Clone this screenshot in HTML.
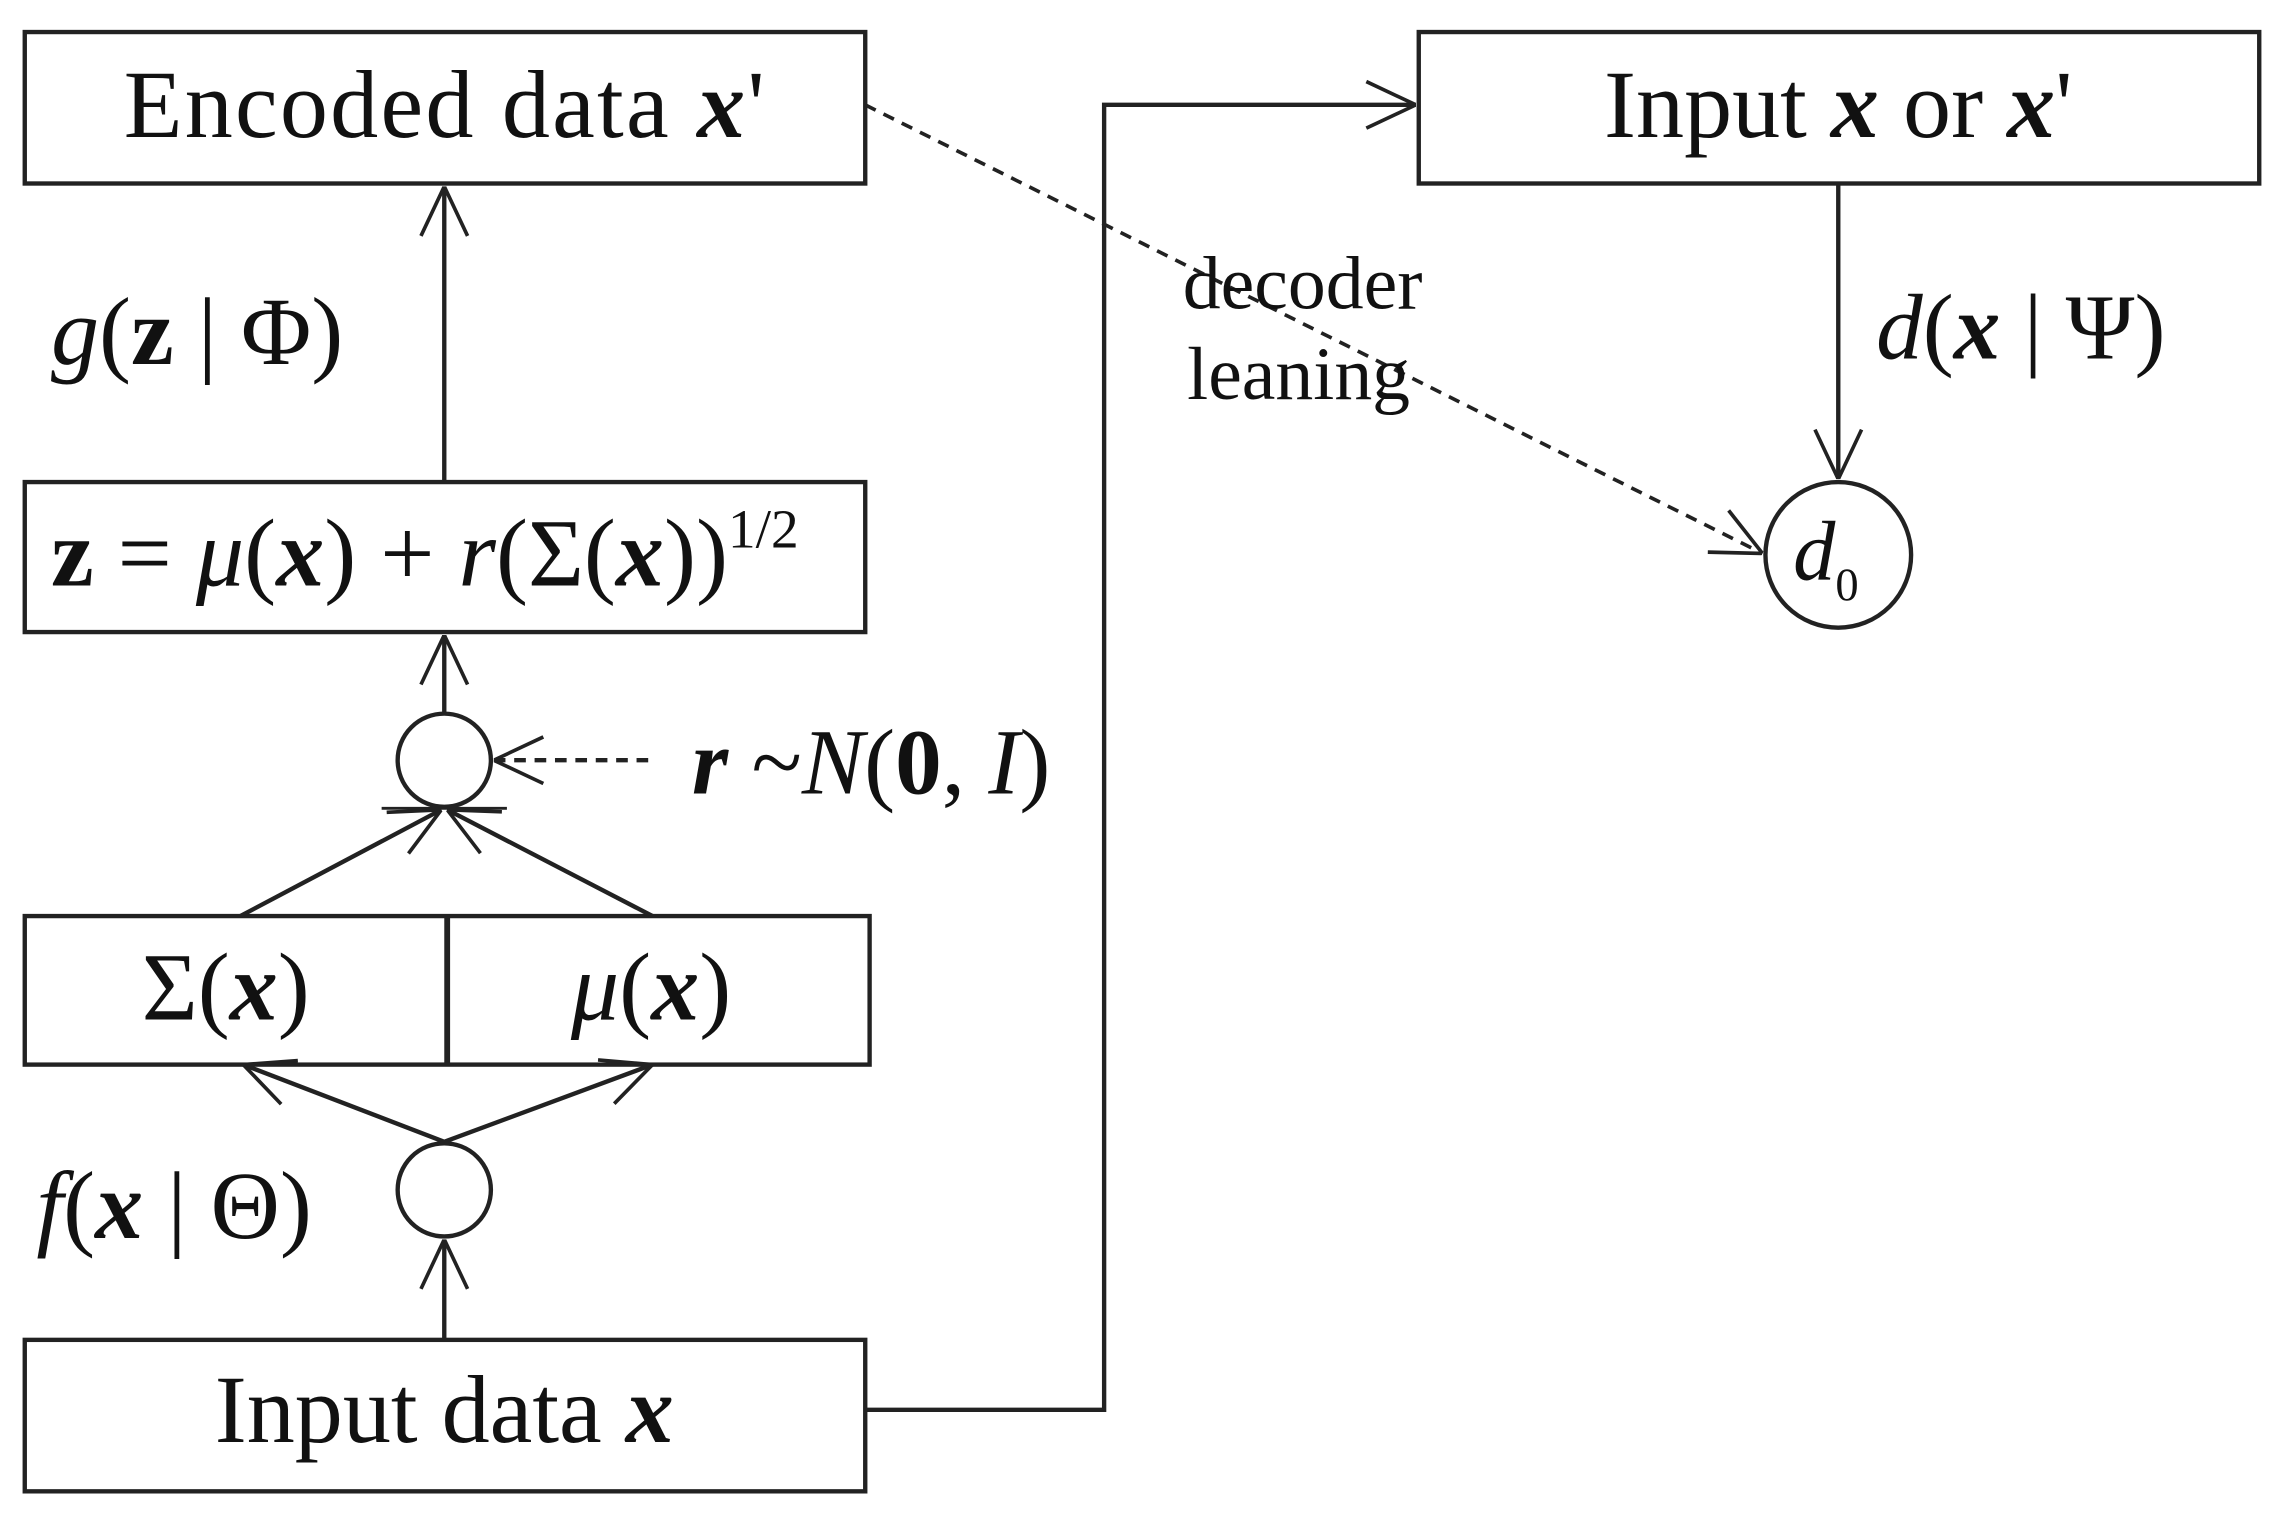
<!DOCTYPE html>
<html><head><meta charset="utf-8"><style>
html,body{margin:0;padding:0;background:#fff;}
svg{display:block;}
text{font-family:"Liberation Serif",serif;fill:#111;}
</style></head><body>
<svg width="2284" height="1519" viewBox="0 0 1568 1043" preserveAspectRatio="none" xmlns="http://www.w3.org/2000/svg">
<defs>
<marker id="a" viewBox="0 0 36 36" refX="36" refY="18" markerWidth="36" markerHeight="36" markerUnits="userSpaceOnUse" orient="auto">
<path d="M2,2 L36,18 L2,34" fill="none" stroke="#222" stroke-width="2.5"/>
</marker>
</defs>
<g fill="none" stroke="#222" stroke-width="3">
<rect x="17" y="22" width="577" height="104"/>
<rect x="974" y="22" width="577" height="104"/>
<rect x="17" y="331" width="577" height="103"/>
<rect x="17" y="629" width="580" height="102"/>
<line x1="307" y1="629" x2="307" y2="731" stroke-width="4"/>
<rect x="17" y="920" width="577" height="104"/>
<circle cx="305" cy="522" r="32"/>
<circle cx="305" cy="817" r="32"/>
<circle cx="1262" cy="381" r="50"/>
<line x1="305" y1="920" x2="305" y2="851" marker-end="url(#a)"/>
<line x1="305" y1="784" x2="167" y2="731" marker-end="url(#a)"/>
<line x1="305" y1="784" x2="448" y2="731" marker-end="url(#a)"/>
<line x1="165" y1="629" x2="303" y2="556" marker-end="url(#a)"/>
<line x1="448" y1="629" x2="307" y2="556" marker-end="url(#a)"/>
<line x1="262" y1="555" x2="348" y2="555" stroke-width="2"/>
<line x1="305" y1="490" x2="305" y2="436" marker-end="url(#a)"/>
<line x1="445" y1="522" x2="339" y2="522" stroke-dasharray="8,6" marker-end="url(#a)"/>
<line x1="305" y1="331" x2="305" y2="128" marker-end="url(#a)"/>
<polyline points="594,968 758,968 758,72 972,72" marker-end="url(#a)"/>
<line x1="594" y1="72" x2="1210" y2="380" stroke-dasharray="8,6" stroke-width="2.5" marker-end="url(#a)"/>
<line x1="1262" y1="126" x2="1262" y2="329" marker-end="url(#a)"/>
</g>
<text x="305" y="94" font-size="66" text-anchor="middle" textLength="440" lengthAdjust="spacing">Encoded data <tspan font-style="italic" font-weight="bold">x</tspan>'</text>
<text x="1262" y="94" font-size="66" text-anchor="middle">Input <tspan font-style="italic" font-weight="bold">x</tspan> or <tspan font-style="italic" font-weight="bold">x</tspan>'</text>
<text x="35" y="402" font-size="66"><tspan font-weight="bold">z</tspan> = <tspan font-style="italic">μ</tspan>(<tspan font-style="italic" font-weight="bold">x</tspan>) + <tspan font-style="italic">r</tspan>(Σ(<tspan font-style="italic" font-weight="bold">x</tspan>))<tspan font-size="38" dy="-26">1/2</tspan></text>
<text x="155" y="700" font-size="66" text-anchor="middle">Σ(<tspan font-style="italic" font-weight="bold">x</tspan>)</text>
<text x="447" y="700" font-size="66" text-anchor="middle"><tspan font-style="italic">μ</tspan>(<tspan font-style="italic" font-weight="bold">x</tspan>)</text>
<text x="305" y="990" font-size="66" text-anchor="middle">Input data <tspan font-style="italic" font-weight="bold">x</tspan></text>
<text x="35" y="250" font-size="66"><tspan font-style="italic">g</tspan>(<tspan font-weight="bold">z</tspan> | Φ)</text>
<text x="1288" y="246" font-size="64"><tspan font-style="italic">d</tspan>(<tspan font-style="italic" font-weight="bold">x</tspan> | Ψ)</text>
<text x="475" y="545" font-size="64"><tspan font-style="italic" font-weight="bold">r</tspan> ~<tspan font-style="italic">N</tspan>(<tspan font-weight="bold">0</tspan>, <tspan font-style="italic">I</tspan>)</text>
<text x="25" y="850" font-size="66"><tspan font-style="italic">f</tspan>(<tspan font-style="italic" font-weight="bold">x</tspan> | Θ)</text>
<text x="812" y="212" font-size="52">decoder</text>
<text x="815" y="274" font-size="52">leaning</text>
<text x="1231" y="398" font-size="58" font-style="italic">d<tspan font-size="32" font-style="normal" dy="14">0</tspan></text>
</svg>
</body></html>
